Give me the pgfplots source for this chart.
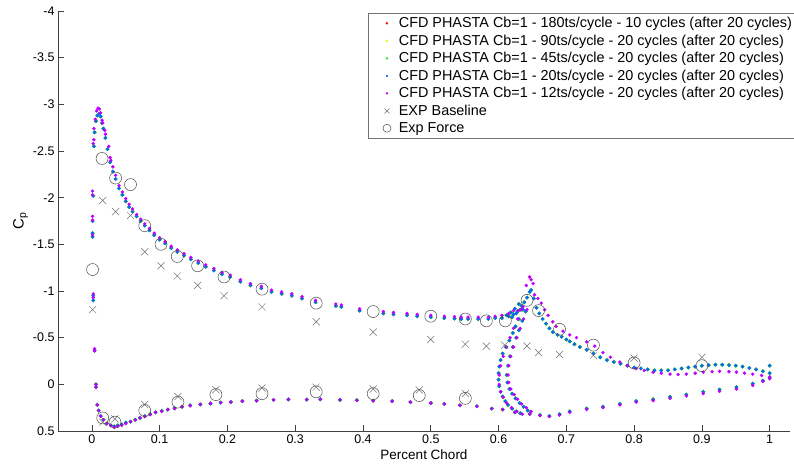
\documentclass[border=0pt]{standalone}
\usepackage{pgfplots}
\pgfplotsset{compat=1.18}
\usepackage{pgfplotstable}
\usepackage{fontspec}
\setmainfont{Liberation Sans}
\definecolor{cfdred}{rgb}{1,0,0}
\definecolor{cfdyel}{rgb}{0.85,1,0}
\definecolor{cfdgrn}{rgb}{0.1,0.9,0.1}
\definecolor{cfdblu}{rgb}{0.05,0.4,1}
\definecolor{cfdpur}{rgb}{0.75,0,1}

\pgfplotstableread{
x y
0.004 -0.36
0.002 -0.90
0.002 -0.95
0.001 -1.58
0.001 -1.62
0.001 -1.75
0.002 -2.02
0.003 -2.55
0.004 -2.70
0.006 -2.82
0.008 -2.88
0.011 -2.90
0.013 -2.87
0.015 -2.80
0.017 -2.74
0.020 -2.64
0.023 -2.52
0.027 -2.38
0.031 -2.28
0.035 -2.20
0.040 -2.10
0.045 -2.03
0.050 -1.96
0.055 -1.90
0.060 -1.85
0.066 -1.80
0.072 -1.75
0.078 -1.70
0.085 -1.65
0.092 -1.60
0.100 -1.55
0.108 -1.51
0.117 -1.46
0.126 -1.42
0.136 -1.38
0.146 -1.34
0.157 -1.30
0.168 -1.26
0.180 -1.22
0.192 -1.18
0.204 -1.15
0.219 -1.10
0.234 -1.06
0.250 -1.03
0.265 -0.99
0.280 -0.97
0.295 -0.95
0.310 -0.92
0.330 -0.88
0.360 -0.84
0.368 -0.83
0.395 -0.79
0.430 -0.76
0.445 -0.75
0.465 -0.74
0.480 -0.73
0.500 -0.72
0.520 -0.71
0.535 -0.705
0.545 -0.70
0.555 -0.70
0.570 -0.70
0.585 -0.70
0.595 -0.71
0.605 -0.71
0.615 -0.73
0.622 -0.75
0.628 -0.78
0.634 -0.84
0.638 -0.88
0.642 -0.93
0.646 -0.99
0.648 -1.01
0.652 -0.92
0.656 -0.82
0.660 -0.76
0.665 -0.70
0.670 -0.65
0.675 -0.60
0.680 -0.56
0.687 -0.53
0.693 -0.51
0.700 -0.48
0.705 -0.46
0.712 -0.43
0.720 -0.40
0.730 -0.37
0.740 -0.33
0.750 -0.29
0.760 -0.26
0.770 -0.24
0.780 -0.22
0.790 -0.20
0.800 -0.18
0.810 -0.17
0.820 -0.16
0.830 -0.15
0.840 -0.15
0.850 -0.15
0.860 -0.16
0.870 -0.17
0.880 -0.18
0.890 -0.19
0.900 -0.20
0.910 -0.205
0.920 -0.21
0.930 -0.21
0.940 -0.205
0.950 -0.20
0.960 -0.19
0.970 -0.175
0.980 -0.16
0.990 -0.14
1.000 -0.12
1.000 -0.20
0.612 -0.74
0.618 -0.77
0.624 -0.81
0.630 -0.86
0.620 -0.72
0.626 -0.76
0.632 -0.80
0.636 -0.80
0.630 -0.70
0.625 -0.62
0.621 -0.55
0.616 -0.47
0.611 -0.40
0.606 -0.33
0.603 -0.26
0.601 -0.19
0.600 -0.12
0.600 -0.05
0.601 0.02
0.603 0.08
0.606 0.13
0.610 0.18
0.614 0.22
0.620 0.26
0.626 0.29
0.632 0.31
0.640 -0.78
0.635 -0.68
0.630 -0.58
0.626 -0.50
0.621 -0.40
0.617 -0.30
0.614 -0.20
0.612 -0.10
0.613 -0.02
0.616 0.05
0.620 0.10
0.625 0.15
0.631 0.20
0.637 0.24
0.643 0.28
0.006 0.00
0.006 0.03
0.008 0.22
0.010 0.28
0.013 0.34
0.017 0.38
0.022 0.42
0.028 0.44
0.033 0.45
0.038 0.44
0.044 0.43
0.050 0.41
0.057 0.40
0.064 0.38
0.071 0.36
0.078 0.34
0.086 0.32
0.094 0.30
0.103 0.285
0.112 0.27
0.122 0.255
0.133 0.24
0.145 0.225
0.160 0.215
0.175 0.205
0.190 0.195
0.205 0.19
0.222 0.18
0.243 0.175
0.268 0.167
0.290 0.162
0.317 0.163
0.337 0.16
0.366 0.167
0.391 0.17
0.415 0.175
0.443 0.18
0.470 0.19
0.500 0.20
0.520 0.21
0.543 0.225
0.568 0.235
0.590 0.26
0.606 0.27
0.624 0.30
0.646 0.316
0.661 0.33
0.675 0.34
0.690 0.32
0.705 0.29
0.730 0.26
0.754 0.24
0.779 0.21
0.803 0.18
0.828 0.16
0.853 0.135
0.877 0.11
0.902 0.08
0.926 0.056
0.951 0.03
0.975 -0.007
0.990 -0.04
1.000 -0.07
}\cfdbase

\pgfplotstableread{
x y
0.004 -0.38
0.004 -0.36
0.002 -0.97
0.002 -0.93
0.001 -1.60
0.001 -1.76
0.001 -1.80
0.001 -2.03
0.001 -2.07
0.002 -2.58
0.003 -2.62
0.003 -2.74
0.005 -2.84
0.007 -2.93
0.009 -2.96
0.011 -2.95
0.013 -2.91
0.015 -2.83
0.016 -2.80
0.019 -2.72
0.020 -2.68
0.025 -2.55
0.027 -2.43
0.028 -2.40
0.031 -2.33
0.035 -2.24
0.040 -2.13
0.045 -2.06
0.050 -1.99
0.055 -1.93
0.060 -1.88
0.066 -1.82
0.072 -1.77
0.078 -1.72
0.085 -1.67
0.092 -1.62
0.100 -1.57
0.108 -1.53
0.117 -1.48
0.126 -1.44
0.136 -1.40
0.146 -1.36
0.157 -1.32
0.168 -1.28
0.180 -1.24
0.192 -1.20
0.204 -1.17
0.219 -1.12
0.234 -1.08
0.250 -1.05
0.265 -1.01
0.280 -0.99
0.295 -0.97
0.310 -0.94
0.330 -0.90
0.360 -0.86
0.368 -0.85
0.395 -0.81
0.430 -0.78
0.445 -0.77
0.465 -0.76
0.480 -0.75
0.500 -0.74
0.520 -0.73
0.535 -0.725
0.545 -0.72
0.555 -0.72
0.570 -0.72
0.585 -0.72
0.595 -0.73
0.605 -0.74
0.615 -0.76
0.622 -0.79
0.629 -0.79
0.636 -0.83
0.641 -1.06
0.646 -1.15
0.648 -1.12
0.651 -1.08
0.653 -0.96
0.658 -0.92
0.663 -0.87
0.668 -0.80
0.673 -0.74
0.680 -0.67
0.685 -0.62
0.695 -0.57
0.705 -0.53
0.715 -0.50
0.730 -0.455
0.742 -0.41
0.754 -0.34
0.765 -0.29
0.779 -0.24
0.790 -0.20
0.803 -0.17
0.815 -0.15
0.828 -0.13
0.840 -0.12
0.853 -0.11
0.865 -0.105
0.877 -0.11
0.890 -0.12
0.902 -0.13
0.915 -0.135
0.926 -0.14
0.940 -0.135
0.951 -0.13
0.963 -0.12
0.975 -0.11
0.988 -0.095
1.000 -0.08
0.642 -0.80
0.637 -0.70
0.632 -0.60
0.627 -0.50
0.622 -0.40
0.618 -0.30
0.615 -0.20
0.614 -0.10
0.615 -0.02
0.618 0.05
0.623 0.11
0.628 0.16
0.634 0.21
0.641 0.25
0.648 0.29
0.634 -0.80
0.628 -0.70
0.622 -0.60
0.617 -0.50
0.612 -0.40
0.607 -0.30
0.603 -0.20
0.601 -0.10
0.601 0.00
0.603 0.08
0.607 0.14
0.612 0.20
0.619 0.25
0.627 0.29
0.635 0.32
0.006 0.00
0.006 0.03
0.008 0.22
0.010 0.28
0.013 0.34
0.017 0.38
0.022 0.42
0.028 0.44
0.033 0.46
0.038 0.45
0.044 0.44
0.050 0.42
0.057 0.40
0.064 0.38
0.071 0.36
0.078 0.345
0.086 0.325
0.094 0.30
0.103 0.29
0.112 0.27
0.122 0.26
0.133 0.24
0.145 0.23
0.160 0.215
0.175 0.205
0.190 0.195
0.205 0.19
0.222 0.18
0.243 0.175
0.268 0.167
0.290 0.162
0.317 0.163
0.337 0.16
0.366 0.167
0.391 0.17
0.415 0.175
0.443 0.18
0.470 0.19
0.500 0.20
0.520 0.21
0.543 0.225
0.568 0.235
0.590 0.26
0.606 0.27
0.624 0.30
0.646 0.32
0.661 0.335
0.675 0.345
0.690 0.33
0.705 0.30
0.730 0.27
0.754 0.25
0.779 0.22
0.803 0.19
0.828 0.175
0.853 0.15
0.877 0.125
0.902 0.10
0.926 0.075
0.951 0.05
0.975 0.01
0.990 -0.03
1.000 -0.06
}\cfdpur

\pgfplotstableread{
x y
0.001 -0.80
0.016 -1.97
0.035 -1.85
0.057 -1.81
0.078 -1.42
0.102 -1.27
0.126 -1.16
0.156 -1.06
0.195 -0.95
0.251 -0.83
0.331 -0.67
0.415 -0.56
0.500 -0.48
0.551 -0.43
0.582 -0.41
0.609 -0.42
0.642 -0.41
0.659 -0.34
0.690 -0.32
0.740 -0.31
0.800 -0.28
0.900 -0.29
0.016 0.405
0.034 0.37
0.078 0.215
0.127 0.13
0.183 0.057
0.251 0.04
0.331 0.03
0.415 0.05
0.483 0.06
0.551 0.10
}\expbase

\pgfplotstableread{
x y
0.001 -1.23
0.015 -2.42
0.035 -2.21
0.057 -2.14
0.078 -1.70
0.102 -1.50
0.126 -1.37
0.156 -1.27
0.195 -1.15
0.251 -1.02
0.331 -0.87
0.415 -0.78
0.500 -0.73
0.551 -0.70
0.582 -0.68
0.610 -0.68
0.642 -0.90
0.659 -0.79
0.690 -0.59
0.740 -0.42
0.800 -0.23
0.900 -0.20
0.016 0.36
0.034 0.405
0.078 0.28
0.127 0.19
0.183 0.11
0.251 0.10
0.331 0.08
0.415 0.10
0.483 0.12
0.551 0.15
}\expforce

\begin{document}
\begin{tikzpicture}
\begin{axis}[
  scale only axis, width=732pt, height=420pt,
  xmin=-0.05, xmax=1.03, ymin=-4, ymax=0.5, y dir=reverse,
  axis x line*=bottom, axis y line*=left,
  axis line style={-, color=black!75, line width=0.6pt},
  xtick={0,0.1,0.2,0.3,0.4,0.5,0.6,0.7,0.8,0.9,1},
  xticklabels={0,0.1,0.2,0.3,0.4,0.5,0.6,0.7,0.8,0.9,1},
  ytick={-4,-3.5,-3,-2.5,-2,-1.5,-1,-0.5,0,0.5},
  yticklabels={-4,-3.5,-3,-2.5,-2,-1.5,-1,-0.5,0,0.5},
  tick align=inside, major tick length=6pt,
  tick style={color=black!75, line width=0.6pt},
  ticklabel style={font=\fontsize{12.5}{14}\selectfont},
  xlabel={Percent Chord}, ylabel={C\textsubscript{p}},
  xlabel style={font=\fontsize{13.5}{15}\selectfont, yshift=1pt},
  ylabel style={font=\fontsize{15}{16}\selectfont, yshift=-2pt},
  legend style={at={(axis description cs:0.4235,0.995)}, anchor=north west,
    draw=black!55, fill=white, font=\fontsize{14.4}{16.2}\selectfont,
    inner sep=2pt, row sep=1.6pt, legend cell align=left},
  legend cell align=left,
  every axis plot post/.append style={legend image code/.code={\path (0cm,0cm) (0.92cm,0cm); \draw[##1] plot coordinates {(0.58cm,0cm)};}},
  clip=false,
]
\addplot[only marks, mark=*, mark size=1.5pt, color=cfdred, legend image post style={mark size=1pt}] table {\cfdbase};
\addlegendentry{CFD PHASTA Cb=1 - 180ts/cycle - 10 cycles (after 20 cycles)}
\addplot[only marks, mark=*, mark size=1.5pt, color=cfdyel, legend image post style={mark size=1pt}] table {\cfdbase};
\addlegendentry{CFD PHASTA Cb=1 - 90ts/cycle - 20 cycles (after 20 cycles)}
\addplot[only marks, mark=*, mark size=1.8pt, color=cfdgrn, legend image post style={mark size=1pt}] table {\cfdbase};
\addlegendentry{CFD PHASTA Cb=1 - 45ts/cycle - 20 cycles (after 20 cycles)}
\addplot[only marks, mark=*, mark size=1.5pt, color=cfdblu, legend image post style={mark size=1pt}] table {\cfdbase};
\addlegendentry{CFD PHASTA Cb=1 - 20ts/cycle - 20 cycles (after 20 cycles)}
\addplot[only marks, mark=*, mark size=1.5pt, color=cfdpur, legend image post style={mark size=1pt}] table {\cfdpur};
\addlegendentry{CFD PHASTA Cb=1 - 12ts/cycle - 20 cycles (after 20 cycles)}
\addplot[only marks, mark=x, mark size=5pt, color=black!55, line width=0.5pt, legend image post style={mark size=3.5pt}] table {\expbase};
\addlegendentry{EXP Baseline}
\addplot[only marks, mark=o, mark size=6pt, color=black!70, line width=0.5pt, legend image post style={mark size=4pt}] table {\expforce};
\addlegendentry{Exp Force}
\end{axis}
\pgfresetboundingbox
\path[use as bounding box] ([xshift=-58pt,yshift=-34pt]current axis.south west) rectangle ([xshift=4pt,yshift=11pt]current axis.north east);
\end{tikzpicture}
\end{document}
